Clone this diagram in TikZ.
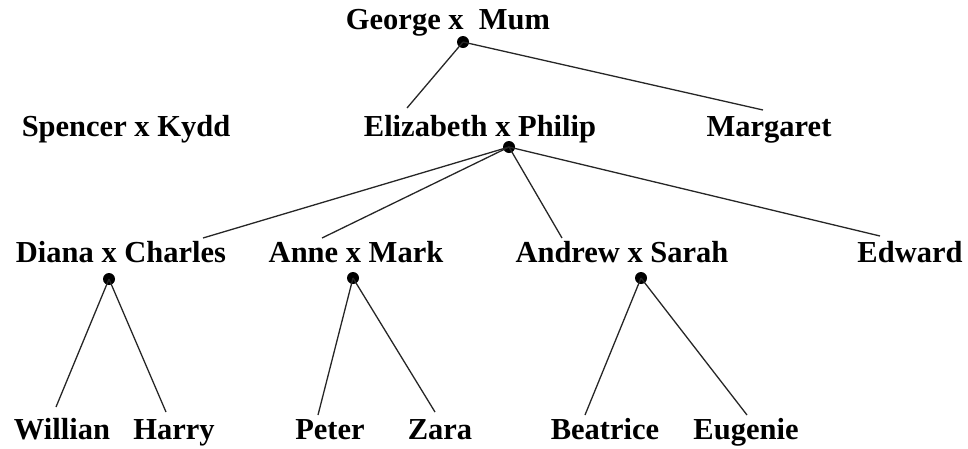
\documentclass[tikz,border=0pt]{standalone}
\usepackage{fontspec}
\setmainfont{Liberation Serif}
\usepackage{tikz}
\usetikzlibrary{positioning,calc}

\begin{document}
\begin{tikzpicture}[
		x=1pt, y=-1pt,
		font=\fontsize{30.5}{36}\selectfont\bfseries,
		person/.style={anchor=base, inner sep=0pt},
		wedding/.style={circle, fill=black, inner sep=0pt, minimum size=12pt},
		link/.style={line width=1.3pt, black!85}
		]
		\useasboundingbox (0,0) rectangle (968,448);

		\node[person] (george) at (448,29) {George x\ \ Mum};
		\node[person] (spencer) at (126,136) {Spencer x Kydd};
		\node[person] (eliz) at (480,136) {Elizabeth x Philip};
		\node[person] (margaret) at (769,136) {Margaret};
		\node[person] (diana) at (121,262) {Diana x Charles};
		\node[person] (anne) at (356,262) {Anne x Mark};
		\node[person] (andrew) at (622,262) {Andrew x Sarah};
		\node[person] (edward) at (910,262) {Edward};
		\node[person] (william) at (62,439) {Willian};
		\node[person] (harry) at (174,439) {Harry};
		\node[person] (peter) at (330,439) {Peter};
		\node[person] (zara) at (440,439) {Zara};
		\node[person] (beatrice) at (605,439) {Beatrice};
		\node[person] (eugenie) at (746,439) {Eugenie};

		\node[wedding] (gm) at (463,42) {};
		\node[wedding] (ep) at (509,147) {};
		\node[wedding] (dc) at (109,279) {};
		\node[wedding] (am) at (353,278) {};
		\node[wedding] (as) at (641,278) {};

		\draw[link] (gm.center) -- ([shift={(-73,-28)}]eliz.base);
		\draw[link] (gm.center) -- ([shift={(-6,-26)}]margaret.base);
		\draw[link] (ep.center) -- ([shift={(82,-24)}]diana.base);
		\draw[link] (ep.center) -- ([shift={(-34,-24)}]anne.base);
		\draw[link] (ep.center) -- ([shift={(-60,-24)}]andrew.base);
		\draw[link] (ep.center) -- ([shift={(-30,-26)}]edward.base);
		\draw[link] (dc.center) -- ([shift={(-6,-32)}]william.base);
		\draw[link] (dc.center) -- ([shift={(-8,-27)}]harry.base);
		\draw[link] (am.center) -- ([shift={(-12,-24)}]peter.base);
		\draw[link] (am.center) -- ([shift={(-5,-27)}]zara.base);
		\draw[link] (as.center) -- ([shift={(-20,-24)}]beatrice.base);
		\draw[link] (as.center) -- ([shift={(1,-24)}]eugenie.base);
	\end{tikzpicture}
\end{document}
